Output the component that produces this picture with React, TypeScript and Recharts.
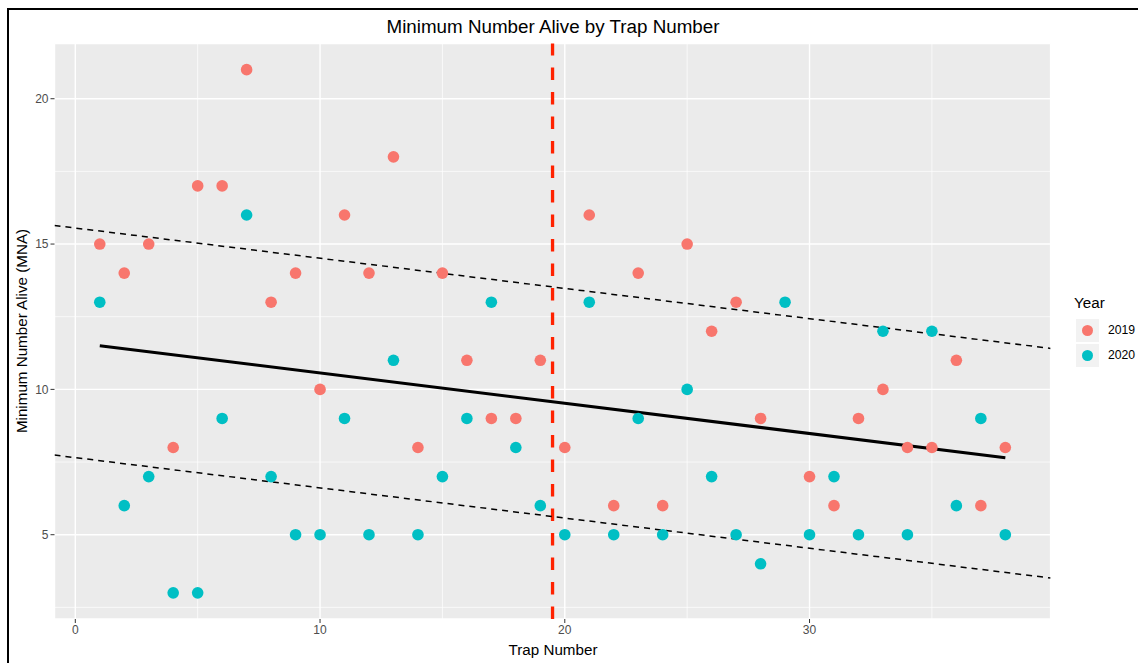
import React from "react";
import {
  ScatterChart,
  Scatter,
  XAxis,
  YAxis,
  CartesianGrid,
  ReferenceLine,
} from "recharts";

// trap numbers along the x axis
const trapNumbers = [
  1, 2, 3, 4, 5, 6, 7, 8, 9, 10, 11, 12, 13, 14, 15, 16, 17, 18, 19,
  20, 21, 22, 23, 24, 25, 26, 27, 28, 29, 30, 31, 32, 33, 34, 35, 36, 37, 38,
];

// minimum number alive per trap (2019 at trap 29 is hidden / absent)
const mna2019 = [
  15, 14, 15, 8, 17, 17, 21, 13, 14, 10, 16, 14, 18, 8, 14, 11, 9, 9, 11,
  8, 16, 6, 14, 6, 15, 12, 13, 9, null, 7, 6, 9, 10, 8, 8, 11, 6, 8,
];
const mna2020 = [
  13, 6, 7, 3, 3, 9, 16, 7, 5, 5, 9, 5, 11, 5, 7, 9, 13, 8, 6,
  5, 13, 5, 9, 5, 10, 7, 5, 4, 13, 5, 7, 5, 12, 5, 12, 6, 9, 5,
];

// fitted line and the dashed band around it
const fitLine = [
  { x: 1, y: 11.5 },
  { x: 38, y: 7.65 },
];
const upperBand = [
  { x: -0.85, y: 15.64 },
  { x: 39.85, y: 11.41 },
];
const lowerBand = [
  { x: -0.85, y: 7.74 },
  { x: 39.85, y: 3.51 },
];
const cutoffTrap = 19.5;

const xTicks = [0, 10, 20, 30];
const yTicks = [5, 10, 15, 20];
const xMinorTicks = [5, 15, 25, 35];
const yMinorTicks = [2.5, 7.5, 12.5, 17.5];

const C2019 = "#F8766D";
const C2020 = "#00BFC4";
const FONT = "'Liberation Sans', Arial, Helvetica, sans-serif";

const toPoints = (vals: (number | null)[]) =>
  trapNumbers
    .map((x, i) => ({ x, y: vals[i] }))
    .filter((p) => p.y !== null);

const dot = (fill: string) => (props: any) =>
  <circle cx={props.cx} cy={props.cy} r={5.8} fill={fill} />;

export default function App() {
  const pts2019 = toPoints(mna2019);
  const pts2020 = toPoints(mna2020);
  return (
    <div
      style={{
        position: "absolute",
        left: 0,
        top: 0,
        width: 1138,
        height: 663,
        overflow: "hidden",
        background: "#fff",
        fontFamily: FONT,
      }}
    >
      <div
        style={{
          position: "absolute",
          left: 7,
          top: 8,
          width: 1200,
          height: 700,
          border: "2.5px solid #000",
        }}
      />
      <ScatterChart
        width={1138}
        height={663}
        margin={{ top: 43.5, right: 87.4, bottom: 14, left: 14.5 }}
        style={{ position: "absolute", left: 0, top: 0 }}
      >
        <CartesianGrid fill="#EBEBEB" stroke="#FFFFFF" strokeWidth={1.4} />
        {xMinorTicks.map((v) => (
          <ReferenceLine key={"mx" + v} x={v} stroke="#FFFFFF" strokeWidth={0.7} />
        ))}
        {yMinorTicks.map((v) => (
          <ReferenceLine key={"my" + v} y={v} stroke="#FFFFFF" strokeWidth={0.7} />
        ))}
        <XAxis
          type="number"
          dataKey="x"
          domain={[-0.85, 39.85]}
          ticks={xTicks}
          interval={0}
          allowDataOverflow
          height={30}
          axisLine={false}
          tickSize={4}
          tickLine={{ stroke: "#333333" }}
          tick={{ fill: "#4D4D4D", fontSize: 12, fontFamily: FONT }}
        />
        <YAxis
          type="number"
          dataKey="y"
          domain={[2.1, 21.9]}
          ticks={yTicks}
          interval={0}
          allowDataOverflow
          width={40}
          axisLine={false}
          tickSize={4}
          tickLine={{ stroke: "#333333" }}
          tick={{ fill: "#4D4D4D", fontSize: 12, fontFamily: FONT }}
        />
        <Scatter
          name="2019"
          data={pts2019}
          shape={dot(C2019)}
          isAnimationActive={false}
        />
        <Scatter
          name="2020"
          data={pts2020}
          shape={dot(C2020)}
          isAnimationActive={false}
        />
        <ReferenceLine
          x={cutoffTrap}
          stroke="#FF2200"
          strokeWidth={3.3}
          strokeDasharray="12.5 12"
        />
        <ReferenceLine
          segment={upperBand}
          stroke="#000"
          strokeWidth={1.5}
          strokeDasharray="6 5"
          ifOverflow="hidden"
        />
        <ReferenceLine
          segment={lowerBand}
          stroke="#000"
          strokeWidth={1.5}
          strokeDasharray="6 5"
          ifOverflow="hidden"
        />
        <ReferenceLine
          segment={fitLine}
          stroke="#000"
          strokeWidth={3}
          ifOverflow="hidden"
        />
      </ScatterChart>

      <div
        style={{
          position: "absolute",
          left: 553,
          top: 17.5,
          transform: "translateX(-50%)",
          fontSize: 18.8,
          lineHeight: 1,
          whiteSpace: "nowrap",
          color: "#000",
        }}
      >
        Minimum Number Alive by Trap Number
      </div>
      <div
        style={{
          position: "absolute",
          left: 553,
          top: 641.5,
          transform: "translateX(-50%)",
          fontSize: 15.2,
          lineHeight: 1,
          whiteSpace: "nowrap",
          color: "#000",
        }}
      >
        Trap Number
      </div>
      <div
        style={{
          position: "absolute",
          left: 22,
          top: 331,
          transform: "translate(-50%, -50%) rotate(-90deg)",
          fontSize: 15.2,
          lineHeight: 1,
          whiteSpace: "nowrap",
          color: "#000",
        }}
      >
        Minimum Number Alive (MNA)
      </div>

      <div style={{ position: "absolute", left: 1074, top: 295 }}>
        <div style={{ fontSize: 15.2, lineHeight: 1, color: "#000" }}>Year</div>
      </div>
      {[
        { label: "2019", color: C2019, top: 319 },
        { label: "2020", color: C2020, top: 344 },
      ].map((k) => (
        <div
          key={k.label}
          style={{
            position: "absolute",
            left: 1076,
            top: k.top,
            height: 23,
            display: "flex",
            alignItems: "center",
          }}
        >
          <div
            style={{
              width: 23,
              height: 23,
              background: "#F2F2F2",
              display: "flex",
              alignItems: "center",
              justifyContent: "center",
            }}
          >
            <div
              style={{
                width: 11.6,
                height: 11.6,
                borderRadius: "50%",
                background: k.color,
              }}
            />
          </div>
          <span
            style={{
              marginLeft: 9,
              fontSize: 12.2,
              color: "#000",
              lineHeight: 1,
            }}
          >
            {k.label}
          </span>
        </div>
      ))}
    </div>
  );
}
